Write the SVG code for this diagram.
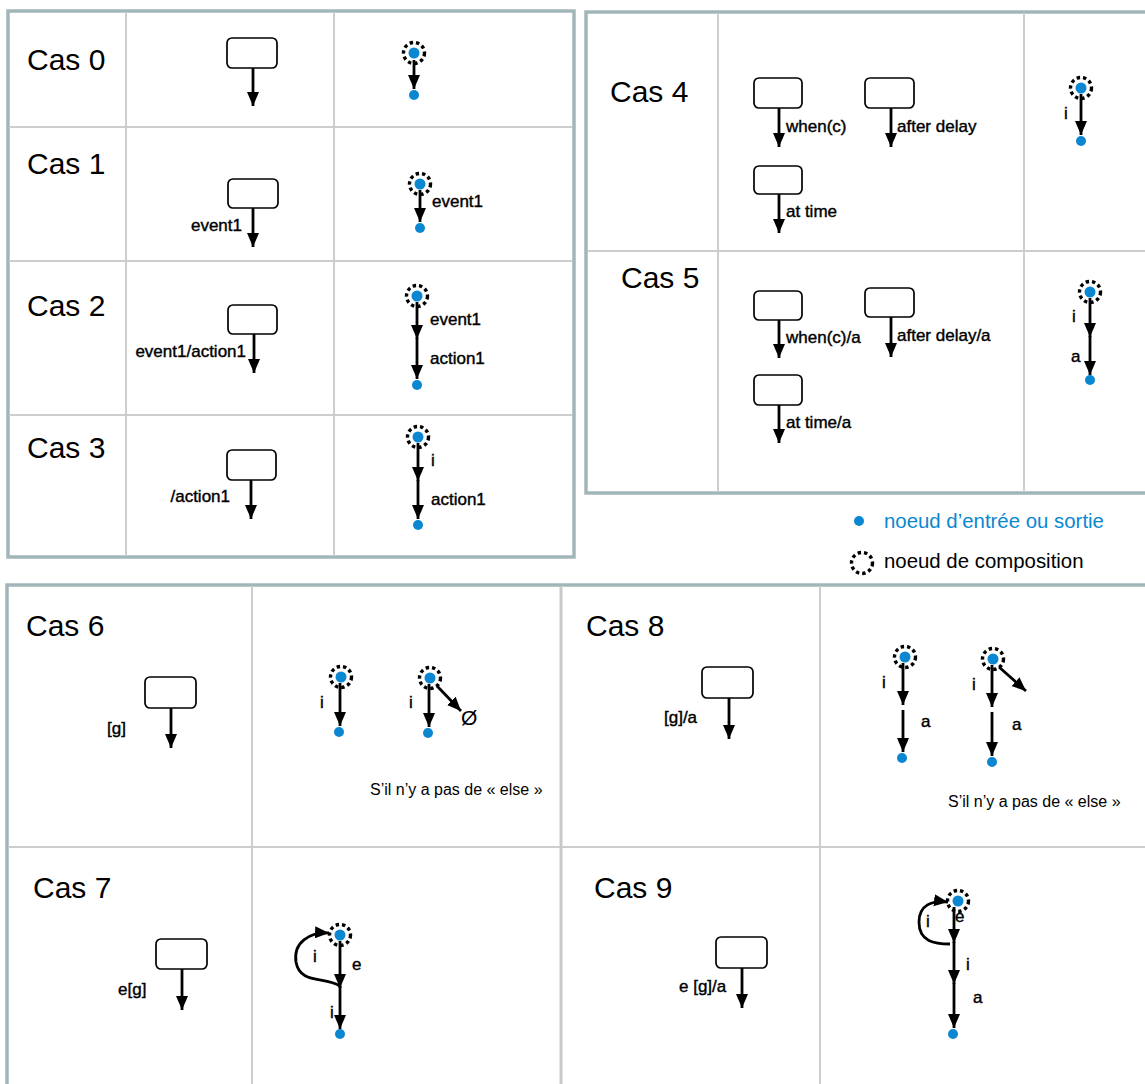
<svg xmlns="http://www.w3.org/2000/svg" width="1145" height="1084" viewBox="0 0 1145 1084">
<style>
.tb{fill:none;stroke:#a2b6ba;stroke-width:3.5}
.gl{stroke:#cdcdcd;stroke-width:2;fill:none}
.dv{stroke:#c9c9c9;stroke-width:3;fill:none}
.cas{font-family:"Liberation Sans",Arial,sans-serif;font-size:30px;fill:#000}
.lb{font-family:"Liberation Sans",Arial,sans-serif;font-size:17px;fill:#000;stroke:#000;stroke-width:0.4}
.nt{font-family:"Liberation Sans",Arial,sans-serif;font-size:16px;fill:#000}
.lg{font-family:"Liberation Sans",Arial,sans-serif;font-size:20.4px}
.st{fill:#fff;stroke:#000;stroke-width:1.7}
.ed{stroke:#000;stroke-width:2.8;fill:none;marker-end:url(#ah)}
.cp{fill:none;stroke:#000;stroke-width:3.4;stroke-dasharray:3.4 3}
.bd{fill:#0b87d1}
</style>
<defs>
<marker id="ah" markerUnits="userSpaceOnUse" markerWidth="14" markerHeight="12" refX="14" refY="6" orient="auto">
<path d="M0,0 L14,6 L0,12 z" fill="#000"/>
</marker>
</defs>
<rect width="1145" height="1084" fill="#fff"/>

<g id="grid">
<rect class="tb" x="8" y="11" width="566" height="546"/>
<line class="gl" x1="126" y1="12" x2="126" y2="556"/>
<line class="gl" x1="334" y1="12" x2="334" y2="556"/>
<line class="gl" x1="9" y1="127" x2="573" y2="127"/>
<line class="gl" x1="9" y1="261" x2="573" y2="261"/>
<line class="gl" x1="9" y1="415" x2="573" y2="415"/>

<path class="tb" d="M1147,12 H586 V493 H1147"/>
<line class="gl" x1="718" y1="13" x2="718" y2="492"/>
<line class="gl" x1="1024" y1="13" x2="1024" y2="492"/>
<line class="gl" x1="587" y1="251" x2="1145" y2="251"/>

<path class="tb" d="M1147,585 H7 V1086"/>
<line class="gl" x1="252" y1="586" x2="252" y2="1084"/>
<line class="gl" x1="820" y1="586" x2="820" y2="1084"/>
<line class="gl" x1="8" y1="847" x2="1145" y2="847"/>
<line class="dv" x1="561" y1="587" x2="561" y2="1084"/>
</g>

<g id="legend">
<circle class="bd" cx="859" cy="521" r="5"/>
<text class="lg" x="884" y="528" fill="#0b87d1">noeud d’entrée ou sortie</text>
<circle class="cp" cx="862" cy="563" r="10.5"/>
<text class="lg" x="884" y="568" fill="#000">noeud de composition</text>
</g>

<g id="cas0">
<text class="cas" x="27" y="70">Cas 0</text>
<rect class="st" x="227" y="38" width="50" height="30" rx="5"/>
<circle class="cp" cx="414" cy="53" r="10.5"/>
<circle class="bd" cx="414" cy="53" r="5.5"/>
<circle class="bd" cx="414" cy="95" r="5"/>
</g>
<g id="cas1">
<text class="cas" x="27" y="174">Cas 1</text>
<rect class="st" x="228" y="179" width="50" height="29" rx="5"/>
<text class="lb" x="242" y="231" text-anchor="end">event1</text>
<circle class="cp" cx="420" cy="184" r="10.5"/>
<circle class="bd" cx="420" cy="184" r="5.5"/>
<circle class="bd" cx="420" cy="228" r="5"/>
<text class="lb" x="432" y="207">event1</text>
</g>
<g id="cas2">
<text class="cas" x="27" y="316">Cas 2</text>
<rect class="st" x="228" y="305" width="49" height="29" rx="5"/>
<text class="lb" x="246" y="357" text-anchor="end">event1/action1</text>
<circle class="cp" cx="417" cy="296" r="10.5"/>
<circle class="bd" cx="417" cy="296" r="5.5"/>
<circle class="bd" cx="417" cy="385" r="5"/>
<text class="lb" x="430" y="325">event1</text>
<text class="lb" x="430" y="364">action1</text>
</g>
<g id="cas3">
<text class="cas" x="27" y="458">Cas 3</text>
<rect class="st" x="227" y="450" width="49" height="30" rx="5"/>
<text class="lb" x="230" y="502" text-anchor="end">/action1</text>
<circle class="cp" cx="418" cy="437" r="10.5"/>
<circle class="bd" cx="418" cy="437" r="5.5"/>
<circle class="bd" cx="418" cy="525" r="5"/>
<text class="lb" x="431" y="466">i</text>
<text class="lb" x="431" y="505">action1</text>
</g>
<g id="cas4">
<text class="cas" x="610" y="102">Cas 4</text>
<rect class="st" x="754" y="78" width="48" height="30" rx="5"/>
<text class="lb" x="786" y="132">when(c)</text>
<rect class="st" x="865" y="78" width="49" height="30" rx="5"/>
<text class="lb" x="897" y="132">after delay</text>
<rect class="st" x="754" y="166" width="48" height="28" rx="5"/>
<text class="lb" x="786" y="217">at time</text>
<circle class="cp" cx="1081" cy="88" r="10.5"/>
<circle class="bd" cx="1081" cy="88" r="5.5"/>
<circle class="bd" cx="1081" cy="141" r="5"/>
<text class="lb" x="1064" y="119">i</text>
</g>
<g id="cas5">
<text class="cas" x="621" y="288">Cas 5</text>
<rect class="st" x="754" y="291" width="48" height="29" rx="5"/>
<text class="lb" x="786" y="343">when(c)/a</text>
<rect class="st" x="865" y="288" width="49" height="29" rx="5"/>
<text class="lb" x="897" y="341">after delay/a</text>
<rect class="st" x="754" y="375" width="48" height="30" rx="5"/>
<text class="lb" x="786" y="428">at time/a</text>
<circle class="cp" cx="1090" cy="292" r="10.5"/>
<circle class="bd" cx="1090" cy="292" r="5.5"/>
<circle class="bd" cx="1090" cy="380" r="5"/>
<text class="lb" x="1072" y="322">i</text>
<text class="lb" x="1071" y="362">a</text>
</g>
<g id="cas6">
<text class="cas" x="26" y="636">Cas 6</text>
<rect class="st" x="145" y="677" width="51" height="31" rx="5"/>
<text class="lb" x="107" y="734">[g]</text>
<circle class="cp" cx="341" cy="677" r="10.5"/>
<circle class="bd" cx="341" cy="677" r="5.5"/>
<circle class="bd" cx="339" cy="732" r="5"/>
<text class="lb" x="320" y="708">i</text>
<circle class="cp" cx="430" cy="678" r="10.5"/>
<circle class="bd" cx="430" cy="678" r="5.5"/>
<circle class="bd" cx="428" cy="733" r="5"/>
<text class="lb" x="409" y="708">i</text>
<text class="cas" x="461" y="725" style="font-size:21px">Ø</text>
<text class="nt" x="370" y="795">S’il n’y a pas de « else »</text>
</g>
<g id="cas8">
<text class="cas" x="586" y="636">Cas 8</text>
<rect class="st" x="702" y="667" width="51" height="31" rx="5"/>
<text class="lb" x="664" y="723">[g]/a</text>
<circle class="cp" cx="905" cy="657" r="10.5"/>
<circle class="bd" cx="905" cy="657" r="5.5"/>
<circle class="bd" cx="902" cy="758" r="5"/>
<text class="lb" x="882" y="688">i</text>
<text class="lb" x="921" y="727">a</text>
<circle class="cp" cx="993" cy="659" r="10.5"/>
<circle class="bd" cx="993" cy="659" r="5.5"/>
<circle class="bd" cx="992" cy="762" r="5"/>
<text class="lb" x="972" y="690">i</text>
<text class="lb" x="1012" y="730">a</text>
<text class="nt" x="948" y="807">S’il n’y a pas de « else »</text>
</g>
<g id="cas7">
<text class="cas" x="33" y="898">Cas 7</text>
<rect class="st" x="156" y="939" width="51" height="30" rx="5"/>
<text class="lb" x="118" y="995">e[g]</text>
<circle class="cp" cx="340" cy="935" r="10.5"/>
<circle class="bd" cx="340" cy="935" r="5.5"/>
<circle class="bd" cx="340" cy="1034" r="5"/>
<text class="lb" x="313" y="962">i</text>
<text class="lb" x="352" y="970">e</text>
<text class="lb" x="330" y="1018">i</text>
</g>
<g id="cas9">
<text class="cas" x="594" y="898">Cas 9</text>
<rect class="st" x="716" y="937" width="51" height="31" rx="5"/>
<text class="lb" x="679" y="992">e [g]/a</text>
<circle class="cp" cx="958" cy="901" r="10.5"/>
<circle class="bd" cx="958" cy="901" r="5.5"/>
<circle class="bd" cx="953" cy="1034" r="5"/>
<text class="lb" x="926" y="927">i</text>
<text class="lb" x="955" y="922">e</text>
<text class="lb" x="966" y="970">i</text>
<text class="lb" x="973" y="1003">a</text>
</g>

<g id="connectors">
<line class="ed" x1="253" y1="68" x2="253" y2="106"/>
<line class="ed" x1="414" y1="60" x2="414" y2="89"/>
<line class="ed" x1="253" y1="208" x2="253" y2="247"/>
<line class="ed" x1="420" y1="190" x2="420" y2="222"/>
<line class="ed" x1="254" y1="334" x2="254" y2="373"/>
<line class="ed" x1="417" y1="302" x2="417" y2="339"/>
<line class="ed" x1="417" y1="338" x2="417" y2="379"/>
<line class="ed" x1="251" y1="480" x2="251" y2="519"/>
<line class="ed" x1="418" y1="443" x2="418" y2="481"/>
<line class="ed" x1="418" y1="480" x2="418" y2="519"/>
<line class="ed" x1="779" y1="108" x2="779" y2="147"/>
<line class="ed" x1="891" y1="108" x2="891" y2="147"/>
<line class="ed" x1="779" y1="194" x2="779" y2="233"/>
<line class="ed" x1="1081" y1="94" x2="1081" y2="135"/>
<line class="ed" x1="779" y1="320" x2="779" y2="358"/>
<line class="ed" x1="891" y1="317" x2="891" y2="357"/>
<line class="ed" x1="779" y1="405" x2="779" y2="443"/>
<line class="ed" x1="1090" y1="298" x2="1090" y2="337"/>
<line class="ed" x1="1090" y1="336" x2="1090" y2="375"/>
<line class="ed" x1="171" y1="708" x2="171" y2="748"/>
<line class="ed" x1="340" y1="683" x2="340" y2="726"/>
<line class="ed" x1="429" y1="684" x2="429" y2="727"/>
<line class="ed" x1="437" y1="686" x2="461" y2="711"/>
<line class="ed" x1="729" y1="698" x2="729" y2="739"/>
<line class="ed" x1="903" y1="663" x2="903" y2="705"/>
<line class="ed" x1="903" y1="710" x2="903" y2="752"/>
<line class="ed" x1="992" y1="665" x2="992" y2="707"/>
<line class="ed" x1="992" y1="712" x2="992" y2="756"/>
<line class="ed" x1="999" y1="667" x2="1026" y2="691"/>
<line class="ed" x1="182" y1="969" x2="182" y2="1010"/>
<line class="ed" x1="340" y1="941" x2="340" y2="988"/>
<line class="ed" x1="340" y1="986" x2="340" y2="1029"/>
<path class="ed" d="M340,986 C325,976 300,985 296,962 C293,942 310,932 329,933"/>
<line class="ed" x1="742" y1="968" x2="742" y2="1008"/>
<line class="ed" x1="954" y1="907" x2="954" y2="943"/>
<line class="ed" x1="954" y1="942" x2="954" y2="984"/>
<line class="ed" x1="954" y1="983" x2="954" y2="1028"/>
<path class="ed" d="M950,944 C935,944 919,942 919,922 C919,905 932,900 948,902"/>
</g>
</svg>
